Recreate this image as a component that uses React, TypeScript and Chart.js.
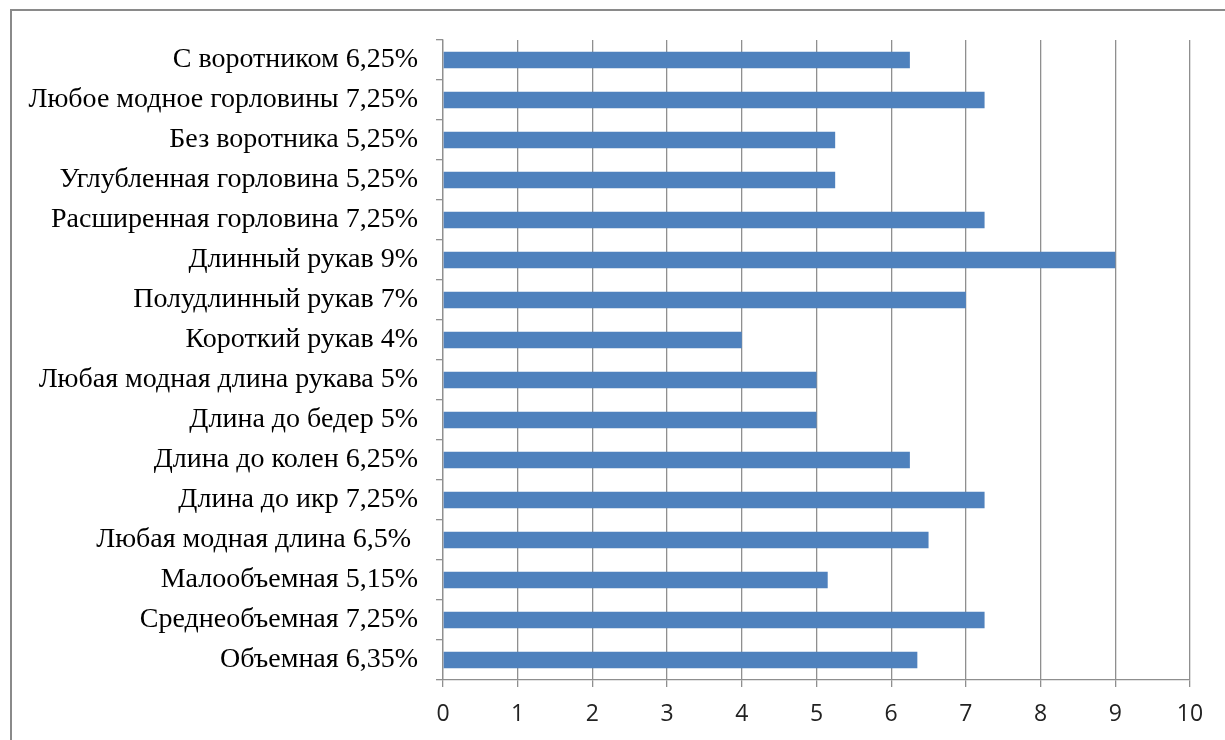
import React, { useEffect, useRef } from "react";
import { Chart, registerables } from "chart.js";

Chart.register(...registerables);

const categories: string[] = [
  "С воротником 6,25%",
  "Любое модное горловины 7,25%",
  "Без воротника 5,25%",
  "Углубленная горловина 5,25%",
  "Расширенная горловина 7,25%",
  "Длинный рукав 9%",
  "Полудлинный рукав 7%",
  "Короткий рукав 4%",
  "Любая модная длина рукава 5%",
  "Длина до бедер 5%",
  "Длина до колен 6,25%",
  "Длина до икр 7,25%",
  "Любая модная длина 6,5% ",
  "Малообъемная 5,15%",
  "Среднеобъемная 7,25%",
  "Объемная 6,35%",
];

const values: number[] = [6.25, 7.25, 5.25, 5.25, 7.25, 9, 7, 4, 5, 5, 6.25, 7.25, 6.5, 5.15, 7.25, 6.35];

const xMin = 0;
const xMax = 10;
const xStep = 1;

export default function App() {
  const ref = useRef<HTMLCanvasElement | null>(null);

  useEffect(() => {
    if (!ref.current) return;
    const chart = new Chart(ref.current, {
      type: "bar",
      data: {
        labels: categories,
        datasets: [
          {
            data: values,
            backgroundColor: "#4F81BD",
            borderWidth: 0,
            barPercentage: 0.41,
            categoryPercentage: 1,
          },
        ],
      },
      options: {
        indexAxis: "y",
        animation: false,
        responsive: false,
        maintainAspectRatio: false,
        layout: { padding: { left: 0, right: 35, top: 40, bottom: 0 } },
        plugins: {
          legend: { display: false },
          tooltip: { enabled: false },
        },
        scales: {
          x: {
            type: "linear",
            min: xMin,
            max: xMax,
            afterFit: (scale: any) => {
              scale.height = 60;
            },
            ticks: {
              stepSize: xStep,
              color: "#222",
              padding: 14,
              font: { family: "'Open Sans', 'DejaVu Sans Condensed', sans-serif", size: 23 },
            },
            grid: {
              color: "#8f8f8f",
              lineWidth: 1.3,
              drawTicks: true,
              tickLength: 7,
            },
            border: { display: true, color: "#8f8f8f", width: 1.3 },
          },
          y: {
            type: "category",
            afterFit: (scale: any) => {
              scale.width = 443;
            },
            ticks: {
              color: "#000",
              padding: 18,
              autoSkip: false,
              font: { family: "'Liberation Serif', 'Times New Roman', serif", size: 28 },
            },
            grid: {
              offset: true,
              drawOnChartArea: false,
              drawTicks: true,
              tickLength: 7,
              color: "#8f8f8f",
              lineWidth: 1.3,
            },
            border: { display: true, color: "#8f8f8f", width: 1.3 },
          },
        },
      },
    });
    return () => chart.destroy();
  }, []);

  return (
    <div style={{ position: "absolute", left: 0, top: 0, width: 1225, height: 740, background: "#fff", overflow: "hidden" }}>
      <div
        style={{
          position: "absolute",
          left: 10,
          top: 9,
          width: 1300,
          height: 800,
          borderLeft: "2px solid #8a8a8a",
          borderTop: "2px solid #8a8a8a",
        }}
      />
      <canvas ref={ref} width={1225} height={740} style={{ position: "absolute", left: 0, top: 0, width: 1225, height: 740 }} />
    </div>
  );
}
